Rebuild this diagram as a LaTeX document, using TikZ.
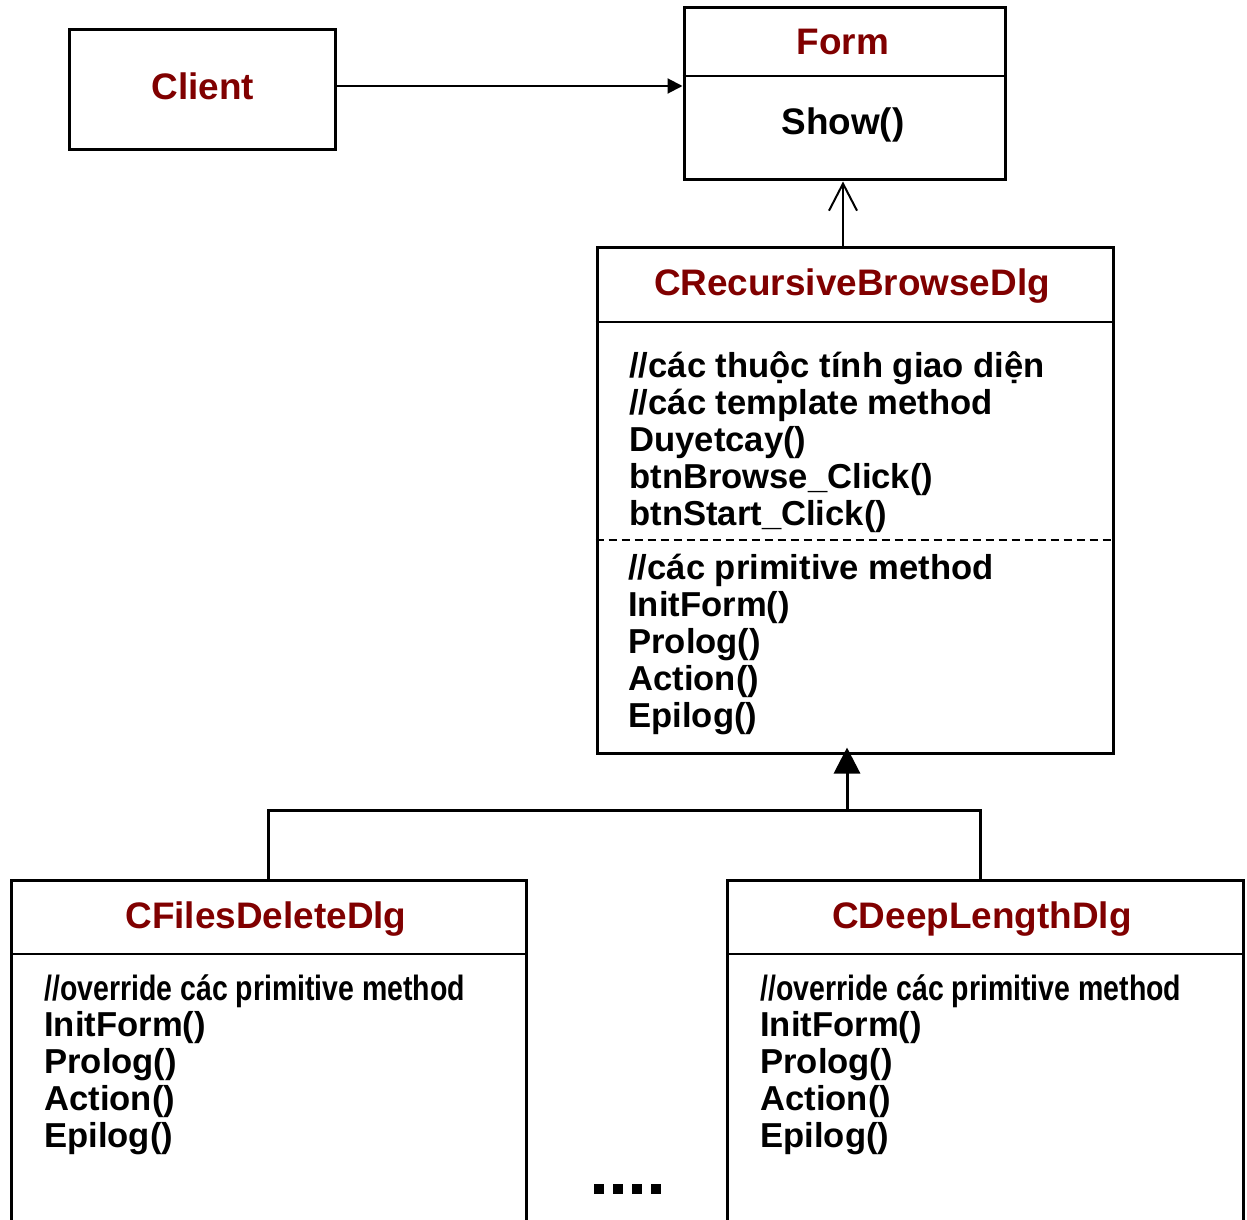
\documentclass[tikz,border=0pt]{standalone}
\usepackage{fontspec}
\setmainfont{Liberation Sans}
\newfontfamily\narrowsans[FakeStretch=0.81]{Liberation Sans}
\usepackage{xcolor}
\usetikzlibrary{arrows.meta, positioning}
\definecolor{dred}{RGB}{128,0,0}

\tikzset{
  cls/.style={draw, line width=0.6mm, inner sep=0pt},
  ttl/.style={text=dred, anchor=base, inner sep=0pt, font=\fontsize{21}{22}\selectfont\bfseries},
  mbr/.style={anchor=base west, inner sep=0pt, font=\fontsize{19.7}{21}\selectfont\bfseries},
  sep/.style={line width=0.3mm},
}

\begin{document}
\begin{tikzpicture}[x=0.2mm, y=-0.2mm]
    \useasboundingbox (0,0) rectangle (1247,1220);
    % client and form
    \node[cls, minimum width=53mm, minimum height=24mm] (client) at (202.5,90) {};
    \node[ttl] (clientname) at (203,100) {Client};
    \node[cls, minimum width=64.2mm, minimum height=34.4mm] (form) at (844.5,94) {};
    \draw[sep] (form.west |- 0,76) -- (form.east |- 0,76);
    \node[ttl] (formname) at (843,55) {Form};
    \node[ttl, text=black] (show) at (843,135) {Show()};
    \draw[line width=0.4mm, -{Triangle[length=3mm, width=3mm]}]
        ([yshift=0.8mm]client.east) -- ([yshift=0.8mm]client.east -| form.west);

    % template class
    \node[cls, minimum width=103.2mm, minimum height=101mm] (rb) at (855,500.5) {};
    \draw[sep] (rb.west |- 0,322) -- (rb.east |- 0,322);
    \draw[line width=0.35mm, dash pattern=on 1.6mm off 1mm] (rb.west |- 0,540) -- (rb.east |- 0,540);
    \node[ttl] (rbname) at (852,296) {CRecursiveBrowseDlg};
    \foreach \t [count=\i from 0] in {//các thuộc tính giao diện, //các template method,
        Duyetcay(), btnBrowse\_Click(), btnStart\_Click()}
        \node[mbr] (rbt\i) at (629,377+37*\i) {\t};
    \foreach \t [count=\i from 0] in {//các primitive method, InitForm(), Prolog(), Action(), Epilog()}
        \node[mbr] (rbp\i) at (628,579+37*\i) {\t};
    \draw[line width=0.4mm, -{Straight Barb[length=5.4mm, width=5.6mm]}]
        ([xshift=-0.3mm]form.south |- rb.north) -- ([xshift=-0.3mm]form.south);

    % subclasses
    \coordinate (fd) at (268,880);
    \coordinate (dl) at (980,880);
    \coordinate (join) at (847,810);
    \draw[line width=0.6mm] (fd) -- (fd |- join) -- (dl |- join) -- (dl);
    \draw[line width=0.6mm, -{Triangle[length=5.2mm, width=5.2mm]}, shorten >=-1.4mm]
        (join) -- (join |- rb.south);
    \draw[line width=0.6mm] (11,1220) -- (11,880) -- (526,880) -- (526,1220);
    \draw[sep] (11,954) -- (526,954);
    \draw[line width=0.6mm] (727,1220) -- (727,880) -- (1243,880) -- (1243,1220);
    \draw[sep] (727,954) -- (1243,954);
    \node[ttl] (fdname) at (266,928) {CFilesDeleteDlg};
    \node[ttl] (dlname) at (982,928) {CDeepLengthDlg};
    \node[mbr, font=\fontsize{20}{21}\narrowsans\bfseries] (fdc) at (44,1000) {//override các primitive method};
    \node[mbr, font=\fontsize{20}{21}\narrowsans\bfseries] (dlc) at (760,1000) {//override các primitive method};
    \foreach \t [count=\i] in {InitForm(), Prolog(), Action(), Epilog()} {
        \node[mbr] (fdm\i) at (44,999+37*\i) {\t};
        \node[mbr] (dlm\i) at (760,999+37*\i) {\t};
    }
    \foreach \i in {0,...,3}
        \fill (594+19*\i,1184) rectangle ++(10,10);
\end{tikzpicture}
\end{document}
